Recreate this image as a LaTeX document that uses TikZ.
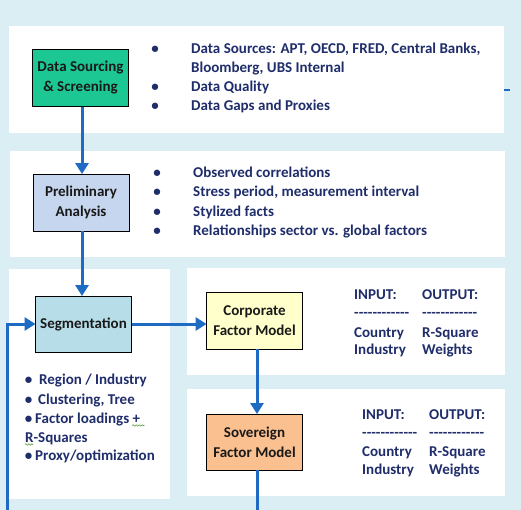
\documentclass[tikz,border=0pt]{standalone}
\usepackage{fontspec}
\setmainfont{Carlito}
\usetikzlibrary{arrows.meta,decorations.pathmorphing}
\definecolor{bgblue}{HTML}{DAEEF3}
\definecolor{navy}{HTML}{1F2D6B}
\definecolor{flow}{HTML}{1F6BC4}
\definecolor{boxgreen}{HTML}{1CC793}
\definecolor{boxlav}{HTML}{C6D6EF}
\definecolor{boxseg}{HTML}{B7DDE8}
\definecolor{boxyel}{HTML}{FFFFCC}
\definecolor{boxpeach}{HTML}{FAC090}
\definecolor{squig}{HTML}{5A9A3C}
\newcommand\dashrow{-\kern0pt-\kern0pt-\kern0pt-\kern0pt-\kern0pt-\kern0pt-\kern0pt-\kern0pt-\kern0pt-\kern0pt-\kern0pt-}
\tikzset{
  panel/.style={fill=white, draw=none},
  stepbox/.style={draw=black, line width=0.9pt, minimum width=96pt, minimum height=57pt,
    align=center, inner sep=2pt, font=\fontsize{15}{20}\selectfont\bfseries, text=black!90},
  txt/.style={anchor=base west, inner sep=0pt, text=navy, font=\fontsize{15}{18}\selectfont\bfseries},
  bul/.style={anchor=base, inner sep=0pt, text=navy, font=\fontsize{15}{18}\selectfont\bfseries},
  flowline/.style={draw=flow, line width=3pt},
  flowarrow/.style={flowline, -{Triangle[length=11pt,width=13pt]}, shorten >=-0.5pt},
  squiggle/.style={squig, line width=0.6pt, decorate, decoration={snake, amplitude=0.8pt, segment length=3pt}},
}
\begin{document}
\begin{tikzpicture}[x=1pt,y=-1pt]
\useasboundingbox (0,0) rectangle (521,510);
\fill[bgblue] (0,0) rectangle (521,510);
% panels
\fill[panel] (9,26) rectangle (504,133);
\fill[panel] (10,151) rectangle (505,257);
\fill[panel] (9,269) rectangle (170,499);
\fill[panel] (187,268) rectangle (505,375);
\fill[panel] (187,389) rectangle (505,496);
% boxes
\node[stepbox, fill=boxgreen] (src) at (80.5,78) {Data Sourcing\\\& Screening};
\node[stepbox, fill=boxlav] (pre) at (81,202.5) {Preliminary\\Analysis};
\node[stepbox, fill=boxseg, minimum height=56pt] (seg) at (83.5,324) {Segmentation};
\node[stepbox, fill=boxyel] (corp) at (254.5,320.5) {Corporate\\Factor Model};
\node[stepbox, fill=boxpeach, minimum height=56pt] (sov) at (254.5,442) {Sovereign\\Factor Model};
% panel 1 text
\foreach \y in {54,92,111} \node[bul] at (155,\y) {•};
\node[txt] (t1a) at (191,54) {Data Sources: APT, OECD, FRED, Central Banks,};
\node[txt] (t1b) at (191,72.5) {Bloomberg, UBS Internal};
\node[txt] (t1c) at (191,92) {Data Quality};
\node[txt] (t1d) at (191,111) {Data Gaps and Proxies};
% panel 2 text
\foreach \y in {178,197,217,236} \node[bul] at (157,\y) {•};
\node[txt] (t2a) at (193,178) {Observed correlations};
\node[txt] (t2b) at (193,197) {Stress period, measurement interval};
\node[txt] (t2c) at (193,217) {Stylized facts};
\node[txt] (t2d) at (193,236) {Relationships sector vs. global factors};
% segmentation text
\foreach \y in {384,404,423,460} \node[bul] at (28.5,\y) {•};
\node[txt] (s1) at (39,384) {Region / Industry};
\node[txt] (s2) at (38,404) {Clustering, Tree};
\node[txt] (s3) at (35,423) {Factor loadings +};
\node[txt] (s4) at (25,442) {R-Squares};
\node[txt] (s5) at (35,460) {Proxy/optimization};
\draw[squiggle] (s3.base east) ++(-8,2.5) -- ++(12,0);
\draw[squiggle] (s4.base west) ++(0,2.5) -- ++(8,0);
% corporate text
\node[txt] (ci1) at (354,299) {INPUT:};
\node[txt] (ci2) at (354,317) {\dashrow};
\node[txt] (ci3) at (354,337) {Country};
\node[txt] (ci4) at (354,354.5) {Industry};
\node[txt] (co1) at (422,299) {OUTPUT:};
\node[txt] (co2) at (422,317) {\dashrow};
\node[txt] (co3) at (422,337) {R-Square};
\node[txt] (co4) at (422,354.5) {Weights};
% sovereign text
\node[txt] (si1) at (362,419) {INPUT:};
\node[txt] (si2) at (362,437) {\dashrow};
\node[txt] (si3) at (362,456) {Country};
\node[txt] (si4) at (362,474) {Industry};
\node[txt] (so1) at (429,419) {OUTPUT:};
\node[txt] (so2) at (429,437) {\dashrow};
\node[txt] (so3) at (429,456) {R-Square};
\node[txt] (so4) at (429,474) {Weights};
% connectors
\coordinate (fbb) at (7.5,510);
\coordinate (fbt) at (7.5,324);
\coordinate (sovend) at (257.5,510);
\coordinate (d1) at (504,90);
\coordinate (d2) at (510,90);
\draw[flowarrow] (src.south -| 82,0) -- (pre.north -| 82,0);
\draw[flowarrow] (pre.south -| 82,0) -- (seg.north -| 82,0);
\draw[flowarrow] (seg.east) -- (corp.west |- seg.east);
\draw[flowarrow] (corp.south -| 257,0) -- (sov.north -| 257,0);
\draw[flowline] (sov.south -| sovend) -- (sovend);
\draw[flowarrow] (fbb) -- (fbt) -- (seg.west);
\draw[flow, line width=2.4pt] (d1) -- (d2);
\end{tikzpicture}
\end{document}
